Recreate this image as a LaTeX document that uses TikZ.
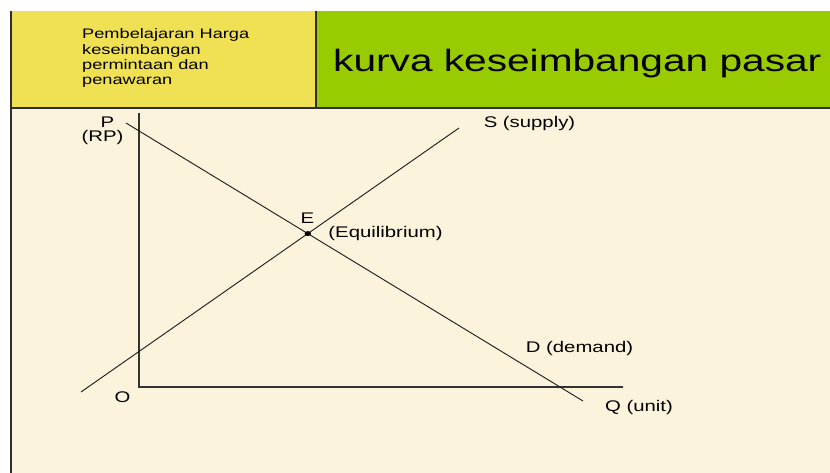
\documentclass[tikz,border=0pt]{standalone}
\usepackage{fontspec}
\usetikzlibrary{shapes.geometric}
\setmainfont{Liberation Sans}
\definecolor{cream}{HTML}{FBF3DC}
\definecolor{hyellow}{HTML}{F0E154}
\definecolor{hgreen}{HTML}{99CC00}
\definecolor{edge}{HTML}{2E2E2E}
\newcommand{\xs}[1]{\scalebox{1.32}[1]{#1}}
\begin{document}
\begin{tikzpicture}[x=1pt,y=-1pt,
  lbl/.style={font=\fontsize{15.4}{17}\selectfont, inner sep=0pt, text=black},
  curve/.style={draw=black!90, line width=0.9pt},
  axis/.style={draw=black!80, line width=1.1pt}]
\useasboundingbox (0,0) rectangle (830,473);
\fill[white] (0,0) rectangle (830,473);
\fill[cream] (11,108) rectangle (830,473);
\fill[hyellow] (11,11) rectangle (316,108);
\fill[hgreen] (316,11) rectangle (830,108);
\draw[edge, line width=1.6pt] (11,11) -- (11,473);
\draw[edge, line width=1.6pt] (316,11) -- (316,108);
\draw[edge, line width=1.6pt] (11,108) -- (830,108);
% header texts
\node[anchor=north west, inner sep=0pt, font=\fontsize{13.8}{15.3}\selectfont] (sub) at (82,28)
  {\xs{\begin{tabular}{@{}l@{}}Pembelajaran Harga\\keseimbangan\\permintaan dan\\penawaran\end{tabular}}};
\node[anchor=west, inner sep=0pt, font=\fontsize{30.8}{34}\selectfont] (title) at (333,64)
  {\xs{kurva keseimbangan pasar}};
% axes and curves
\coordinate (ytop) at (139,113);
\coordinate (O) at (139,387);
\coordinate (xend) at (623,387);
\coordinate (d1) at (126,123);
\coordinate (d2) at (583,401);
\coordinate (s1) at (81,392);
\coordinate (s2) at (459,128);
\draw[axis] (ytop) -- (O) -- (xend);
\draw[curve] (d1) -- (d2);
\draw[curve] (s1) -- (s2);
\node[fill=black, ellipse, minimum width=6.5pt, minimum height=5pt, inner sep=0pt] (E) at (intersection of d1--d2 and s1--s2) {};
% labels
\node[lbl] (P) at (107.5,122.5) {\xs{P}};
\node[lbl] (RP) at (102.5,138) {\xs{(RP)}};
\node[lbl] (Olbl) at (122.5,397.5) {\xs{O}};
\node[lbl] (Elbl) at (307.5,218.5) {\xs{E}};
\node[lbl] (eq) at (385.5,233.5) {\xs{(Equilibrium)}};
\node[lbl] (S) at (529.5,123.5) {\xs{S (supply)}};
\node[lbl] (D) at (579.5,348.5) {\xs{D (demand)}};
\node[lbl] (Q) at (639,407.5) {\xs{Q (unit)}};
\end{tikzpicture}
\end{document}
